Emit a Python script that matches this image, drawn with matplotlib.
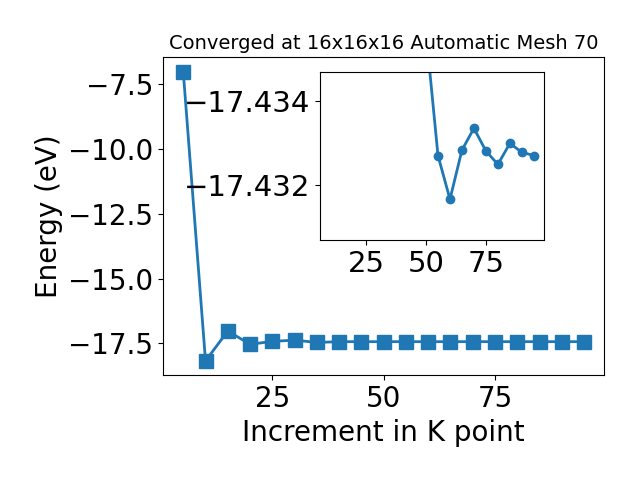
import matplotlib
matplotlib.use("Agg")
import matplotlib.pyplot as plt

kpoints = [5, 10, 15, 20, 25, 30, 35, 40, 45, 50, 55, 60, 65, 70, 75, 80, 85, 90, 95]
energy = [-7.03, -18.17, -17.02, -17.53, -17.42, -17.37, -17.46, -17.43, -17.43,
          -17.43, -17.43, -17.43, -17.43, -17.43, -17.43, -17.43, -17.43, -17.43, -17.43]

# fine values shown in the inset
inset_k = [50, 55, 60, 65, 70, 75, 80, 85, 90, 95]
inset_energy = [-17.43564, -17.43271, -17.43167, -17.43284, -17.43336, -17.43282,
                -17.43250, -17.43300, -17.43279, -17.43271]

fig = plt.figure(figsize=(6.4, 4.8), dpi=100)
ax = fig.add_axes([0.255, 0.218, 0.689, 0.663])
ax.plot(kpoints, energy, marker='s', markersize=10, linewidth=2, color='#1f77b4')
ax.set_title("Converged at 16x16x16 Automatic Mesh 70", fontsize=14)
ax.set_xlabel("Increment in K point", fontsize=20)
ax.set_ylabel("Energy (eV)", fontsize=20)
ax.set_xticks([25, 50, 75])
ax.tick_params(labelsize=20)

ins = fig.add_axes([0.5, 0.5, 0.35, 0.35])
ins.plot(inset_k, inset_energy, marker='o', markersize=6, linewidth=2, color='#1f77b4')
ins.set_xlim(5.75, 99.25)
ins.set_ylim(-17.4307, -17.4347)
ins.set_xticks([25, 50, 75])
ins.set_yticks([-17.434, -17.432])
ins.ticklabel_format(axis='y', useOffset=False)
ins.tick_params(labelsize=21)

fig.savefig("out.png", dpi=100)
